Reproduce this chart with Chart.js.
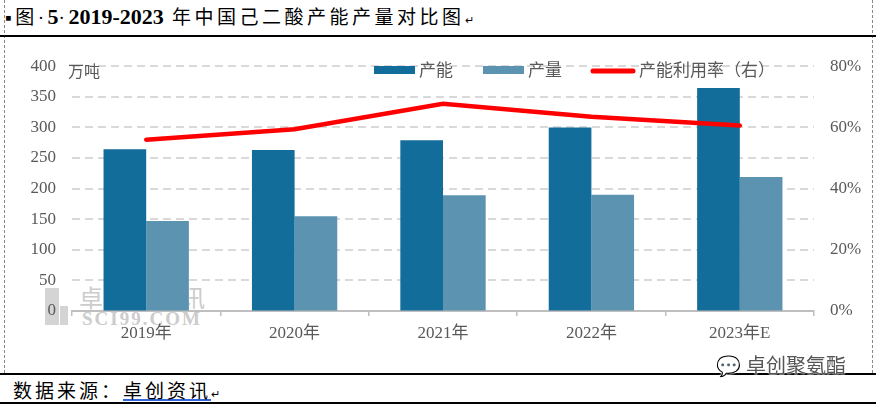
<!DOCTYPE html>
<html>
<head>
<meta charset="utf-8">
<script src="https://cdn.jsdelivr.net/npm/chart.js@4"></script>
<style>
  body { margin: 0; width: 876px; height: 406px; background: #fff; position: relative; overflow: hidden;
         font-family: "Liberation Serif", "Noto Sans CJK SC", serif; }
  .abs { position: absolute; }
  #title { left: 5px; top: 4px; font-size: 19px; color: #000; letter-spacing: 3.5px; white-space: nowrap; line-height: 26px; }
  #title .num { font-size: 22px; font-weight: bold; letter-spacing: 0; }
  #unit { left: 68px; top: 58px; font-size: 16px; color: #595959; }
  #wm1 { left: 45px; top: 288px; width: 14px; height: 37px; background: #d4d4d4; }
  #wm1b { left: 60px; top: 306px; width: 8px; height: 19px; background: #d4d4d4; }
  #wm2 { left: 79px; top: 287px; font-size: 24px; line-height: 1; color: #cccccc; white-space: nowrap; letter-spacing: 10px; }
  #wm3 { left: 82px; top: 309px; font-size: 19px; line-height: 1; font-weight: bold; color: #cccccc; letter-spacing: 2px; }
  #source { left: 13px; top: 376px; font-size: 19px; color: #000; white-space: nowrap; letter-spacing: 3px; }
  #source u { text-decoration-color: #3366dd; text-decoration-thickness: 2px; }
  #wx { left: 716px; top: 350px; font-size: 20px; color: #555; white-space: nowrap;
        text-shadow: 0 0 2px #fff, 0 0 2px #fff; }
</style>
</head>
<body>
<div class="abs" style="left:4px;top:0;height:373px;border-left:1px dashed #888"></div>
<div class="abs" style="left:872px;top:0;height:373px;border-left:1px dashed #888"></div>
<div class="abs" style="left:0;top:35px;width:876px;border-top:2px solid #000"></div>
<div class="abs" style="left:0;top:373px;width:876px;border-top:2px solid #000"></div>
<div class="abs" style="left:0;top:402px;width:876px;border-top:2px solid #000"></div>
<div id="title" class="abs">▪图·<span class="num">5</span>·<span class="num">2019-2023</span> 年中国己二酸产能产量对比图<span style="font-size:11px">↵</span></div>
<div id="wm1" class="abs"></div>
<div id="wm1b" class="abs"></div>
<div id="wm2" class="abs">卓创资讯</div>
<div id="wm3" class="abs">SCI99.COM</div>
<canvas id="chart" class="abs" style="left:0;top:40px" width="876" height="333"></canvas>
<div id="unit" class="abs">万吨</div>
<div id="source" class="abs">数据来源：<u>卓创资讯</u><span style="font-size:11px">↵</span></div>
<div id="wx" class="abs">💬 卓创聚氨酯</div>
<script>
const years = ["2019年", "2020年", "2021年", "2022年", "2023年E"];
const capacity = [264.5, 263, 279, 300, 364.5];
const output = [147, 155, 189, 190, 219];
const utilization = [56.0, 59.4, 67.7, 63.5, 60.6];
const leftTicks = [0, 50, 100, 150, 200, 250, 300, 350, 400];
const rightTicks = [0, 20, 40, 60, 80];

const labelColor = "#595959";
const tickFont = { family: "'Liberation Serif', 'Noto Sans CJK SC', serif", size: 17 };

// dashed horizontal grid, drawn at the left axis tick positions
const dashedGrid = {
  id: "dashedGrid",
  beforeDatasetsDraw(chart) {
    const ctx = chart.ctx;
    const y = chart.scales.y;
    const area = chart.chartArea;
    ctx.save();
    ctx.strokeStyle = "#d9d9d9";
    ctx.lineWidth = 2;
    ctx.setLineDash([8, 5]);
    y.ticks.forEach((t) => {
      if (t.value === 0) return;
      const py = Math.round(y.getPixelForValue(t.value));
      ctx.beginPath();
      ctx.moveTo(area.left, py);
      ctx.lineTo(area.right, py);
      ctx.stroke();
    });
    ctx.restore();
  },
};

const legendPlugin = {
  id: "innerLegend",
  afterDraw(chart) {
    const ctx = chart.ctx;
    const items = [
      { ds: chart.data.datasets[1], x: 374, w: 41 },
      { ds: chart.data.datasets[2], x: 483, w: 41 },
      { ds: chart.data.datasets[0], x: 591, w: 44 },
    ];
    const y = 30;
    ctx.save();
    ctx.font = "17px 'Noto Sans CJK SC', sans-serif";
    ctx.textBaseline = "middle";
    items.forEach((it) => {
      if (it.ds.type === "line") {
        ctx.strokeStyle = it.ds.borderColor;
        ctx.lineWidth = 5;
        ctx.lineCap = "round";
        ctx.beginPath();
        ctx.moveTo(it.x + 2, y + 1);
        ctx.lineTo(it.x + it.w - 2, y + 1);
        ctx.stroke();
      } else {
        ctx.fillStyle = it.ds.backgroundColor;
        ctx.fillRect(it.x, y - 4, it.w, 8);
      }
      ctx.fillStyle = labelColor;
      ctx.fillText(it.ds.label, it.x + it.w + 4, y);
    });
    ctx.restore();
  },
};

new Chart(document.getElementById("chart"), {
  type: "bar",
  data: {
    labels: years,
    datasets: [
      {
        type: "line",
        label: "产能利用率（右）",
        data: utilization,
        yAxisID: "y1",
        borderColor: "#ff0000",
        borderWidth: 4.5,
        borderCapStyle: "round",
        pointRadius: 0,
        tension: 0,
      },
      {
        label: "产能",
        data: capacity,
        backgroundColor: "#136d9b",
        categoryPercentage: 0.575,
        barPercentage: 1,
      },
      {
        label: "产量",
        data: output,
        backgroundColor: "#5b93b0",
        categoryPercentage: 0.575,
        barPercentage: 1,
      },
    ],
  },
  options: {
    responsive: false,
    animation: false,
    layout: { padding: { top: 23, left: 0, right: 0, bottom: 0 } },
    plugins: { legend: { display: false }, tooltip: { enabled: false } },
    scales: {
      x: {
        offset: true,
        grid: {
          offset: true,
          drawOnChartArea: false,
          drawTicks: true,
          tickLength: 5,
          color: "#bfbfbf",
          lineWidth: 1.5,
        },
        border: { display: true, color: "#bfbfbf", width: 2 },
        ticks: { color: labelColor, font: tickFont, padding: 7 },
        afterFit(scale) { scale.height = 62; },
      },
      y: {
        position: "left",
        min: 0,
        max: 400,
        afterBuildTicks(scale) { scale.ticks = leftTicks.map((v) => ({ value: v })); },
        grid: { drawOnChartArea: false, drawTicks: false },
        border: { display: false },
        ticks: { color: labelColor, font: tickFont, padding: 16 },
        afterFit(scale) { scale.width = 72; },
      },
      y1: {
        position: "right",
        min: 0,
        max: 80,
        afterBuildTicks(scale) { scale.ticks = rightTicks.map((v) => ({ value: v })); },
        grid: { drawOnChartArea: false, drawTicks: false },
        border: { display: false },
        ticks: { color: labelColor, font: tickFont, padding: 16, callback: (v) => v + "%" },
        afterFit(scale) { scale.width = 62; },
      },
    },
  },
  plugins: [dashedGrid, legendPlugin],
});
</script>
</body>
</html>
